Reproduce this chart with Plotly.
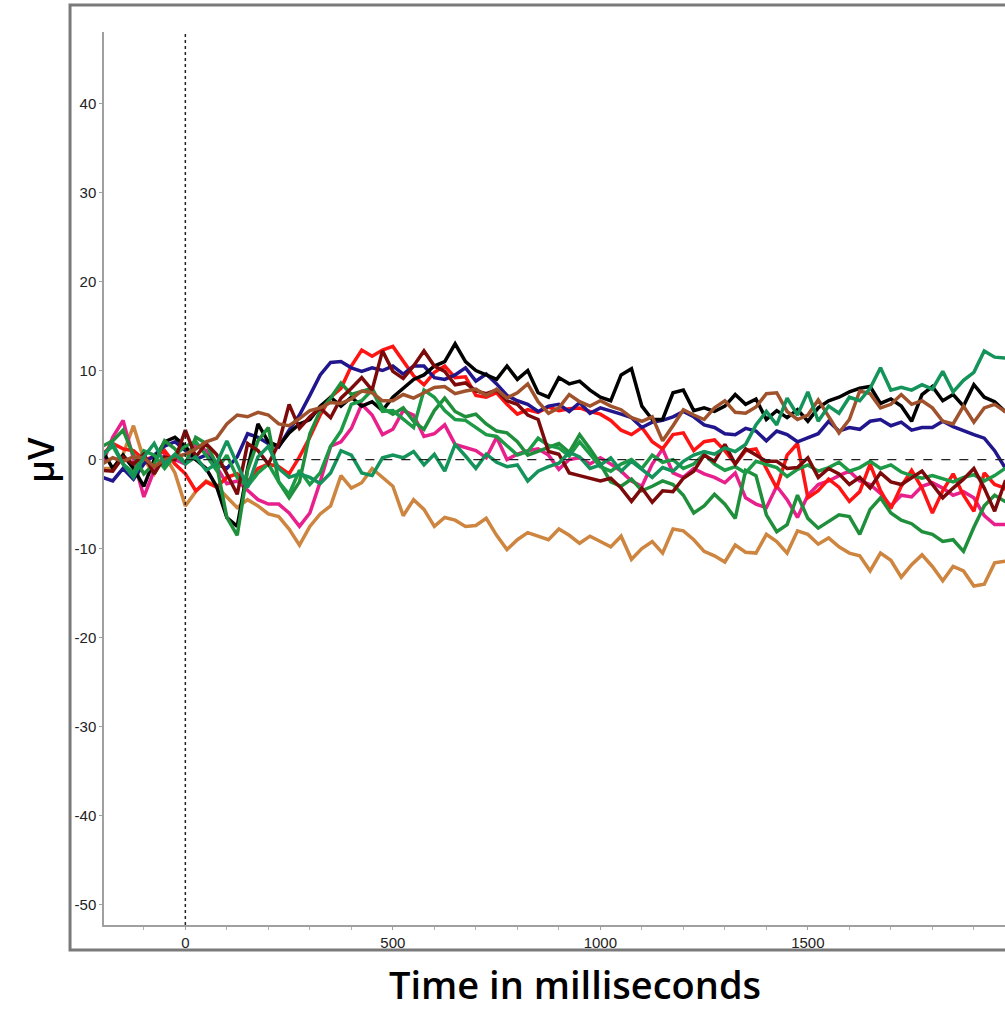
import plotly.graph_objects as go

# time axis (ms), 25 ms steps
time_ms = list(range(-200, 2001, 25))

black = [1, -1, 0.5, -1, -3, 0, 2, 2.5,
         1.5, 0, -1, -3, -6.5, -7.5, -1, 4,
         2, 1.5, 3, 4, 4.5, 6, 7, 6,
         7, 6, 6.5, 5.5, 7, 8, 9, 9.5,
         10.5, 11, 13, 11, 10, 9.5, 9, 10.5,
         9, 10, 7.5, 7, 9.2, 8.5, 8.8, 7.8,
         7, 6.6, 9.5, 10.2, 6, 4.5, 4.5, 7.5,
         7.8, 5.5, 5.8, 5.4, 6, 7.3, 6.2, 6.8,
         4.5, 5.5, 4.7, 5.6, 4.3, 5.8, 6.6, 7,
         7.6, 8, 8.2, 6.3, 6.8, 6, 4.3, 7.3,
         8.2, 6.6, 7.3, 6, 8.4, 7, 6.5, 5.4,
         5]

navy = [-2, -2.4, -1, -2.2, -0.5, 0.5, 1.5, 2,
        1, 0, 0.5, -0.5, -1, 0.3, 2.9, 2.5,
        1.8, 1.4, 3.3, 5, 7.2, 9.5, 10.9, 11,
        10.3, 9.9, 10.3, 10, 10.5, 9.6, 10.5, 10.5,
        9.2, 9, 9.5, 10.3, 8.8, 9.6, 8.5, 7.2,
        6.6, 6.2, 5.4, 6, 6.2, 5.4, 6.4, 5.2,
        5.8, 5.5, 5.1, 4.7, 3.6, 4.2, 4.4, 4.8,
        5.4, 4.8, 3.9, 3.6, 2.9, 2.8, 3.5, 3.2,
        2.1, 3.2, 2.8, 2, 2.4, 2.9, 4.3, 3.2,
        3.6, 3.4, 4.3, 4.5, 3.8, 4.2, 3.3, 3.6,
        3.6, 4.3, 3.7, 3.2, 2.8, 2.4, 1.0, -0.9,
        -1.5]

red = [0.5, 1.8, 1.2, 1, 0, 0.3, 1, -0.5,
       -1.6, -3.5, -2.5, -3.1, -2, -1.6, -2.5, -1,
       -0.5, -0.8, -1.6, 0.3, 2.5, 5, 7, 8,
       10.5, 12.3, 11.6, 12.3, 12.7, 11, 9.4, 8.4,
       9.8, 10.5, 9.2, 9.3, 7.2, 7, 7.5, 6.2,
       5.1, 5.6, 5.3, 5.9, 5.5, 5.7, 5.8, 5.4,
       5.1, 4.4, 3.3, 2.8, 3.6, 2, 1.2, 2.8,
       3, 1, 2, 2.2, 1, -0.5, 1, 1.2,
       -0.9, -3.2, 0.5, 1.8, -4.3, -3.5, -2.2, -3.1,
       -4.7, -3.6, -0.5, -3.5, -5.5, -3, -1.2, -3.2,
       -6, -3.5, -1.6, -4, -5.8, -1.5, -2.8, -3.2,
       -5]

pink = [-0.5, 2.5, 4.4, 0, -4.2, -1.2, 0.5, 0,
        -0.5, 1.6, 1, -0.8, -2.7, -2.4, -3.5, -4.5,
        -5, -5, -6, -7.5, -6, -2.5, 1.5, 2,
        3.5, 6.2, 5, 2.8, 3.4, 5.5, 5, 2.6,
        2.9, 3.9, 1.7, 1.3, 1, 0.2, 2.5, 0,
        0.6, 1, 1.2, 0.5, -1.1, 0, 0.2, -0.5,
        0.2, -0.5, -1.3, -2.4, -3, -0.5, 1.2, -1.5,
        -2, -1, -1.6, -2, -2.6, -1.5, -4.3, -5,
        -5.4, -3, -4.5, -6.5, -4, -2.8, -2.4, -1.8,
        -1.3, -2.4, -2.8, -3.8, -5.2, -4, -4.2, -3,
        -2.6, -3.2, -4, -3.6, -4.3, -6.3, -7.3, -7.3,
        -7]

tan = [-1, -1, 0.6, 3.8, 0, -1.6, 0.5, -1.5,
       -5.2, -3.6, -2.4, -3, -4.2, -5.4, -4.5, -5.2,
       -6.1, -6.4, -7.8, -9.6, -7.5, -6.1, -5.2, -1.8,
       -3.2, -2.6, -1, -2, -3, -6.3, -4.5, -5.6,
       -7.5, -6.5, -6.8, -7.5, -7.4, -6.6, -8.5, -10.1,
       -9, -8.2, -8.6, -9, -7.8, -8.5, -9.4, -8.6,
       -9.2, -9.8, -8.6, -11.2, -10, -9.2, -10.5, -7.8,
       -8, -9, -10.3, -10.8, -11.5, -9.6, -10.4, -10.5,
       -8.4, -9.2, -10.5, -8, -8.4, -9.5, -8.8, -9.8,
       -10.5, -10.8, -12.5, -10.5, -11.3, -13.2, -11.8, -10.7,
       -12, -13.6, -12, -12.5, -14.2, -14, -11.6, -11.4,
       -11]

green_a = [1.5, 2.1, 3.3, 0.5, -1.6, -0.5, 2.1, 1.2,
           -0.5, 2.5, 1.8, -0.5, -6.5, -8.5, -1.2, 2.1,
           3.6, -2.5, -4.3, -2.5, 2.9, 5.5, 6.9, 8.6,
           7.3, 7.6, 8, 5.8, 5.1, 5.8, 4.3, 3.4,
           5.5, 6.9, 5.4, 4.8, 5.1, 4, 3.2, 3,
           2, 0.5, 0.9, 1.3, 1.8, 0.8, 2.8, 1.2,
           -0.5, -2.5, -3, -2.2, -3.5, -3, -2.4, -2.8,
           -4, -6, -5.2, -3.9, -5, -6.6, -1.2, -1.8,
           -6.2, -8.1, -7.3, -4, -6.6, -7.7, -7, -6.2,
           -6.4, -8.4, -5.6, -4.3, -6, -6.8, -7.2, -8.1,
           -8.4, -9.2, -9, -10.3, -7.6, -5.2, -4, -4.7,
           -5]

green_b = [0.5, 1.5, -0.5, -1.5, 1, 0.5, -1, 0.5,
           1.5, 2, 0.5, -1.2, 0.5, -2, -3, -1.5,
           -0.5, -2.5, -3.9, -1.2, -2.8, -1.5, 1.5, 3.2,
           6.2, 6.6, 7.8, 5.4, 5.5, 4.6, 3.6, 7.8,
           7, 5.5, 4.5, 4.4, 3.6, 2.8, 2.6, 1.6,
           0.5, 0.9, 2.4, 1.6, 1.3, 0.4, 2, 0.6,
           -0.8, -1.3, -0.5, 0, -1, 0.5, -0.3, 0,
           -1, -0.5, 0.6, -0.5, -1.2, -0.8, -1.5, -0.2,
           -0.5, -0.9, -1.9, -1.1, -0.6, -1.3, -0.9, -0.3,
           -1.3, -0.9, -0.2, -1, -0.6, -1.4, -1.8, -2.1,
           -1.8, -2.2, -2.5, -2, -1.7, -2.4, -1.8, -1,
           -1]

teal = [0.3, 1.8, -0.5, -2, 0.3, 1.8, -0.5, 0.6,
        -0.5, 0.3, -1.2, -0.5, 2.1, -0.5, -3.1, 0.3,
        1.5, -1, -2, -1.6, -2, -2.7, -1.5, 1,
        0.5, -1.5, -1.8, 0.2, 0.5, 0.2, 0.9, -0.6,
        0.6, -1.3, 1.7, 0.4, -1, 0.6, -0.3, -0.8,
        -0.6, -2.4, -1.3, -0.8, -0.4, 0.8, 0.3, -1,
        -0.6, 0.2, -1.3, -0.2, -1.1, -2, -0.9, -1.3,
        -0.2, 0.5, 0.9, 0.6, 1.3, 0.9, 1.7, 3.9,
        5.4, 3.9, 6.9, 5, 7.6, 4.3, 6, 5.2,
        7, 6.6, 8, 10.3, 7.8, 8.1, 7.8, 8.4,
        7.9, 9.9, 7.6, 8.9, 9.8, 12.2, 11.5, 11.4,
        11]

maroon = [-1.2, -1.3, 0.3, -0.5, 0.6, -1.6, 0.3, 0,
          3.3, 0.3, 1.8, 0.6, -1.6, -3.9, 1.8, 1,
          -0.5, 1.8, 6.2, 3.5, 4.8, 5.8, 4.7, 6.9,
          8, 9.2, 7.8, 12.2, 9.9, 9.1, 10.5, 12.2,
          10.5, 9.9, 8.4, 8.6, 7.7, 7.4, 7.8, 6.6,
          6.2, 5, 4.5, 0.9, 0.6, -1.5, -1.8, -2.1,
          -2.4, -2.1, -3.2, -4.7, -3.2, -4.8, -3.5, -3.6,
          -2.1, -1.3, 0.5, -0.2, 1.7, -0.5, 1.2, 0.5,
          -0.2, -0.2, -1, -0.9, 0.2, -2, -1, -1.6,
          -2.8, -2, -3.2, -1.5, -2.5, -2.8, -2, -1.3,
          -2.8, -4.3, -3.2, -2.2, -1, -3.2, -5.8, -2.5,
          -3]

sienna = [-0.5, 0.2, -0.2, 0.3, 0.2, -0.8, 0, 0.3,
          0.6, 1.2, 2, 2.4, 4, 5, 4.8, 5.3,
          5, 4, 3.8, 4.6, 5.5, 5.8, 6.4, 6.3,
          6.8, 7.7, 7.5, 6.6, 6.6, 7.3, 6.9, 7.5,
          8.1, 8.2, 7.4, 7.7, 7.9, 7.2, 7.9, 6.9,
          7.5, 8.5, 6.5, 5.2, 5.8, 7.3, 6.5, 6,
          6.6, 6, 5.6, 4.7, 4.3, 4.8, 2.1, 3.8,
          5.6, 5, 4.5, 5.8, 6.6, 5.3, 5.2, 5.9,
          7.4, 7.5, 5.4, 4.5, 5, 6.7, 4.8, 3,
          4.5, 7.7, 7.4, 5.8, 6.2, 7.3, 6.2, 6.6,
          5.8, 4.3, 4, 6, 4.2, 5.8, 6.2, 5.4,
          5]

series = [
    ("tan", tan, "#cd853f"),
    ("pink", pink, "#e8208c"),
    ("red", red, "#ff1414"),
    ("navy", navy, "#22168c"),
    ("black", black, "#000000"),
    ("green_a", green_a, "#1f8f3c"),
    ("green_b", green_b, "#1c9a46"),
    ("maroon", maroon, "#7d0a0a"),
    ("sienna", sienna, "#a0522d"),
    ("teal", teal, "#14935a"),
]

y_ticks = [-50, -40, -30, -20, -10, 0, 10, 20, 30, 40]
x_ticks = [0, 500, 1000, 1500]

fig = go.Figure()
for name, vals, col in series:
    fig.add_trace(go.Scatter(x=time_ms, y=vals, mode="lines", name=name,
                             line=dict(color=col, width=3.5), showlegend=False,
                             hoverinfo="skip"))

fig.update_layout(
    width=1005, height=1013,
    margin=dict(l=104, r=0, t=32, b=88),
    paper_bgcolor="white", plot_bgcolor="white",
    showlegend=False,
    font=dict(family="Liberation Sans, Arial, sans-serif", size=15, color="#222"),
)
fig.update_xaxes(
    range=[-196, 1975], tickvals=x_ticks, ticktext=[str(v) for v in x_ticks],
    showgrid=False, zeroline=False, showline=True, linecolor="#a0a0a0", linewidth=1.5,
    ticks="outside", ticklen=3, tickcolor="#a0a0a0",
    minor=dict(dtick=100, tick0=0, ticks="outside", ticklen=3, tickcolor="#b0b0b0", showgrid=False),
    tickfont=dict(size=15, color="#222"),
)
fig.update_yaxes(
    range=[-52.25, 48], tickvals=y_ticks, ticktext=[str(v) for v in y_ticks],
    showgrid=False, zeroline=False, showline=True, linecolor="#a0a0a0", linewidth=1.5,
    ticks="outside", ticklen=3, tickcolor="#a0a0a0",
    tickfont=dict(size=15, color="#222"),
)

# reference lines at 0 ms and 0 µV
fig.add_shape(type="line", xref="x", yref="paper", x0=0, x1=0, y0=0, y1=1,
              line=dict(color="#222", width=1.5, dash="dot"))
fig.add_shape(type="line", xref="x", yref="y", x0=0, x1=1975, y0=0, y1=0,
              line=dict(color="#222", width=1.2, dash="dash"))

# outer grey frame
fig.add_shape(type="rect", xref="paper", yref="paper",
              x0=-0.0377, x1=1.02, y0=-0.028, y1=1.0302,
              line=dict(color="#7a7a7a", width=3), layer="below")

fig.add_annotation(text="Time in milliseconds", xref="paper", yref="paper",
                   x=(575 - 104) / 901, y=(925 - 984) / 893, xanchor="center", yanchor="middle",
                   showarrow=False,
                   font=dict(family="Open Sans, sans-serif", size=38, color="#000", weight=600))
fig.add_annotation(text="µV", xref="paper", yref="paper",
                   x=(40 - 104) / 901, y=(925 - 460) / 893, xanchor="center", yanchor="middle",
                   showarrow=False, textangle=-90,
                   font=dict(family="Open Sans, sans-serif", size=36, color="#000", weight=600))

fig.write_html("out.html")
